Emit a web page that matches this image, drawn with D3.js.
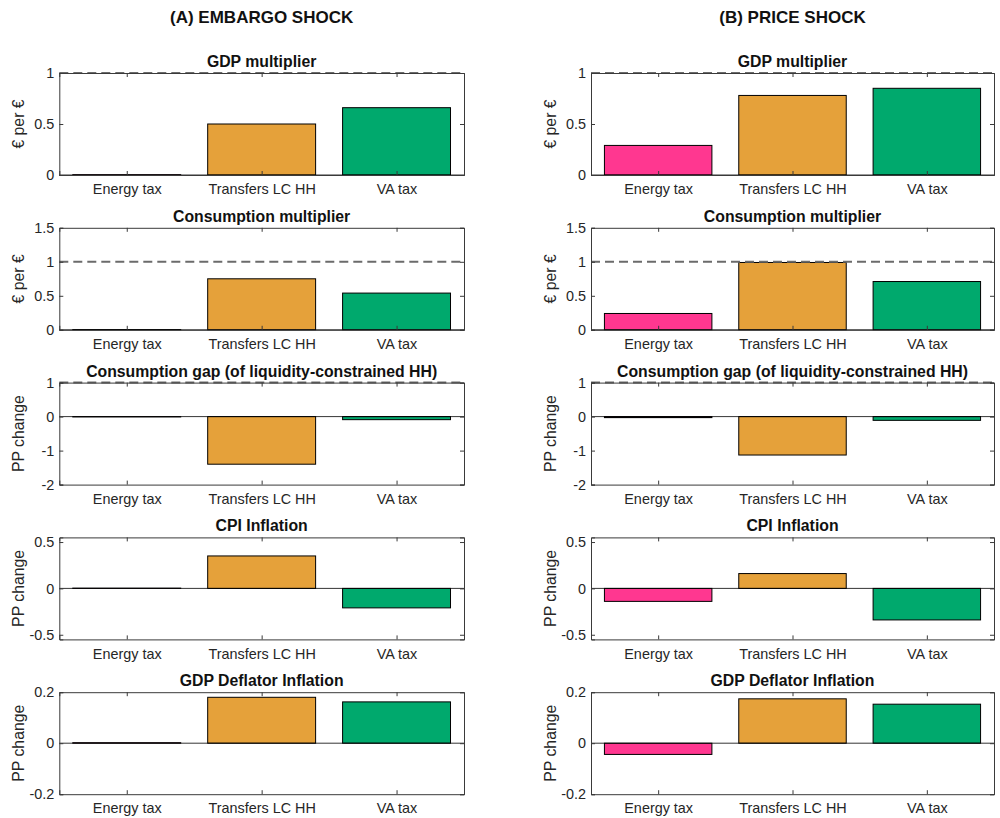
<!DOCTYPE html>
<html>
<head>
<meta charset="utf-8">
<script src="https://cdn.jsdelivr.net/npm/d3@7"></script>
<style>
  html, body { margin: 0; padding: 0; background: #fff; }
  svg { display: block; font-family: "Liberation Sans", Arial, Helvetica, sans-serif; }
</style>
</head>
<body>
<svg id="chart" width="1000" height="818"></svg>
<script>
// Policy instruments compared in every panel
const categories = ["Energy tax", "Transfers LC HH", "VA tax"];

// Column headers
const shockTitles = ["(A) EMBARGO SHOCK", "(B) PRICE SHOCK"];

// Row definitions
const panelTitles = [
  "GDP multiplier",
  "Consumption multiplier",
  "Consumption gap (of liquidity-constrained HH)",
  "CPI Inflation",
  "GDP Deflator Inflation"
];
const yLabels = ["€ per €", "€ per €", "PP change", "PP change", "PP change"];
const yDomains = [[0, 1], [0, 1.5], [-2, 1], [-0.55, 0.55], [-0.2, 0.2]];
const yTicks = [[0, 0.5, 1], [0, 0.5, 1, 1.5], [-2, -1, 0, 1], [-0.5, 0, 0.5], [-0.2, 0, 0.2]];
const refLines = [1, 1, 1, null, null];

// Embargo shock results
const embargoGdp  = [0.003, 0.50, 0.66];
const embargoCons = [0.004, 0.75, 0.54];
const embargoGap  = [-0.01, -1.40, -0.09];
const embargoCpi  = [0.003, 0.35, -0.21];
const embargoDefl = [0.002, 0.18, 0.162];

// Price shock results
const priceGdp  = [0.29, 0.78, 0.85];
const priceCons = [0.24, 0.99, 0.71];
const priceGap  = [-0.03, -1.13, -0.11];
const priceCpi  = [-0.14, 0.16, -0.34];
const priceDefl = [-0.044, 0.174, 0.153];

const columns = [
  [embargoGdp, embargoCons, embargoGap, embargoCpi, embargoDefl],
  [priceGdp, priceCons, priceGap, priceCpi, priceDefl]
];

// Styling
const barFill = ["#ff3790", "#e5a13a", "#00a96d"];
const textColor = "#262626";
const axisColor = "#3a3a3a";

const colX = [[59.3, 464], [591, 994]];
const rowTop0 = 73, rowStep = 154.8, plotH = 102;

const svg = d3.select("#chart");

columns.forEach((col, c) => {
  const [x0, x1] = colX[c];

  svg.append("text")
    .attr("x", (x0 + x1) / 2)
    .attr("y", 23)
    .attr("text-anchor", "middle")
    .attr("font-size", 17)
    .attr("font-weight", "bold")
    .attr("fill", "#111")
    .text(shockTitles[c]);

  col.forEach((values, r) => {
    const top = rowTop0 + r * rowStep;
    const bottom = top + plotH;

    const x = d3.scaleLinear().domain([0.5, 3.5]).range([x0, x1]);
    const y = d3.scaleLinear().domain(yDomains[r]).range([bottom, top]);

    const g = svg.append("g");

    // bars
    g.selectAll("rect.bar")
      .data(values)
      .join("rect")
      .attr("class", "bar")
      .attr("x", (d, i) => x(i + 1 - 0.4))
      .attr("width", (d, i) => x(i + 1 + 0.4) - x(i + 1 - 0.4))
      .attr("y", d => Math.min(y(d), y(0)))
      .attr("height", d => Math.abs(y(d) - y(0)))
      .attr("fill", (d, i) => barFill[i])
      .attr("stroke", "#000")
      .attr("stroke-width", 1);

    // bar baseline
    g.append("line")
      .attr("x1", x0).attr("x2", x1)
      .attr("y1", y(0)).attr("y2", y(0))
      .attr("stroke", "#000")
      .attr("stroke-width", 0.8);

    // reference line at one euro per euro
    if (refLines[r] !== null) {
      g.append("line")
        .attr("x1", x0).attr("x2", x1)
        .attr("y1", y(refLines[r])).attr("y2", y(refLines[r]))
        .attr("stroke", "#6b6b6b")
        .attr("stroke-width", 2)
        .attr("stroke-dasharray", "9,5");
    }

    const fmt = d => String(d);

    // left axis with labels
    const left = g.append("g")
      .attr("transform", `translate(${x0},0)`)
      .call(d3.axisLeft(y).tickValues(yTicks[r]).tickFormat(fmt).tickSize(-4).tickPadding(5));
    // right axis ticks
    const right = g.append("g")
      .attr("transform", `translate(${x1},0)`)
      .call(d3.axisRight(y).tickValues(yTicks[r]).tickFormat("").tickSize(-4));
    // bottom axis with category names
    const bot = g.append("g")
      .attr("transform", `translate(0,${bottom})`)
      .call(d3.axisBottom(x).tickValues([1, 2, 3]).tickFormat(d => categories[d - 1]).tickSize(-4).tickPadding(9));
    // top axis ticks
    const topAx = g.append("g")
      .attr("transform", `translate(0,${top})`)
      .call(d3.axisTop(x).tickValues([1, 2, 3]).tickFormat("").tickSize(-4));

    [left, right, bot, topAx].forEach(a => {
      a.select(".domain").attr("stroke", axisColor).attr("stroke-width", 1);
      a.selectAll(".tick line").attr("stroke", axisColor).attr("stroke-width", 1);
      a.selectAll(".tick text")
        .attr("fill", textColor)
        .attr("font-size", 14.4)
        .attr("font-family", "'Liberation Sans', Arial, Helvetica, sans-serif");
    });

    // panel title
    g.append("text")
      .attr("x", (x0 + x1) / 2)
      .attr("y", top - 6)
      .attr("text-anchor", "middle")
      .attr("font-size", 15.8)
      .attr("font-weight", "bold")
      .attr("fill", "#111")
      .text(panelTitles[r]);

    // y axis label
    g.append("text")
      .attr("transform", `translate(${x0 - 35},${(top + bottom) / 2}) rotate(-90)`)
      .attr("text-anchor", "middle")
      .attr("font-size", 15.8)
      .attr("fill", textColor)
      .text(yLabels[r]);
  });
});
</script>
</body>
</html>
